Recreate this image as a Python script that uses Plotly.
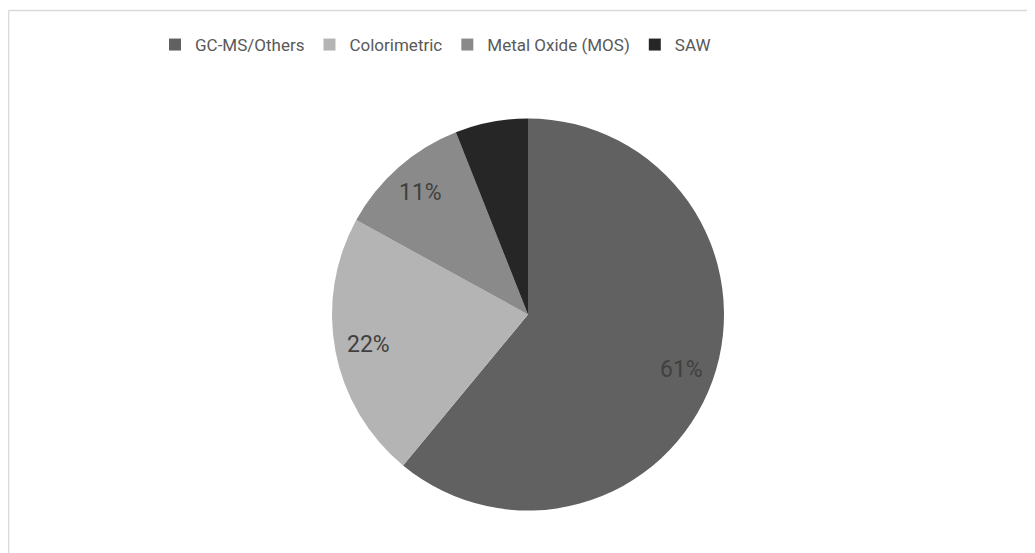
import numpy as np
import plotly.graph_objects as go

labels = ["GC-MS/Others", "Colorimetric", "Metal Oxide (MOS)", "SAW"]
values = [61, 22, 11, 6]
colors = ["#616161", "#b4b4b4", "#8a8a8a", "#262626"]

# page body has an 8px margin; work in figure pixel coords
W, H = 1027, 545
cx, cy, r = 520, 306.5, 196  # pie centre (from top-left) and radius in px

fig = go.Figure(go.Pie(
    labels=labels,
    values=values,
    sort=False,
    direction="clockwise",
    rotation=0,
    marker=dict(colors=colors, line=dict(width=0)),
    textinfo="none",
    domain=dict(x=[(cx - r) / W, (cx + r) / W], y=[(H - cy - r) / H, (H - cy + r) / H]),
    hoverinfo="label+percent",
))

# percentage labels placed along each slice's mid-angle
vals = np.array(values, dtype=float)
pct = vals / vals.sum()
mid = (np.cumsum(pct) - pct / 2) * 2 * np.pi
f = 0.83
annotations = []
for p, a in zip(pct, mid):
    if p < 0.08:
        continue
    annotations.append(dict(
        xref="paper", yref="paper",
        x=(cx + f * r * np.sin(a)) / W,
        y=(H - cy + f * r * np.cos(a)) / H,
        text=f"{round(p * 100)}%",
        showarrow=False,
        xanchor="center", yanchor="middle",
        font=dict(family="Roboto", size=23, color="#404040"),
    ))

fig.update_layout(
    width=W, height=H,
    margin=dict(l=0, r=0, t=0, b=0),
    paper_bgcolor="white",
    showlegend=True,
    legend=dict(
        orientation="h",
        x=147 / W, xanchor="left",
        y=1 - 37 / H, yanchor="middle",
        font=dict(family="Roboto", size=17, color="#595959"),
        traceorder="normal",
    ),
    annotations=annotations,
    shapes=[
        dict(type="line", xref="paper", yref="paper", x0=0.5 / W, x1=1.0, y0=1 - 2.5 / H, y1=1 - 2.5 / H,
             line=dict(color="#d9d9d9", width=1.5)),
        dict(type="line", xref="paper", yref="paper", x0=0.5 / W, x1=0.5 / W, y0=0, y1=1 - 2.5 / H,
             line=dict(color="#d9d9d9", width=1.5)),
    ],
)

fig.write_html("out.html")
